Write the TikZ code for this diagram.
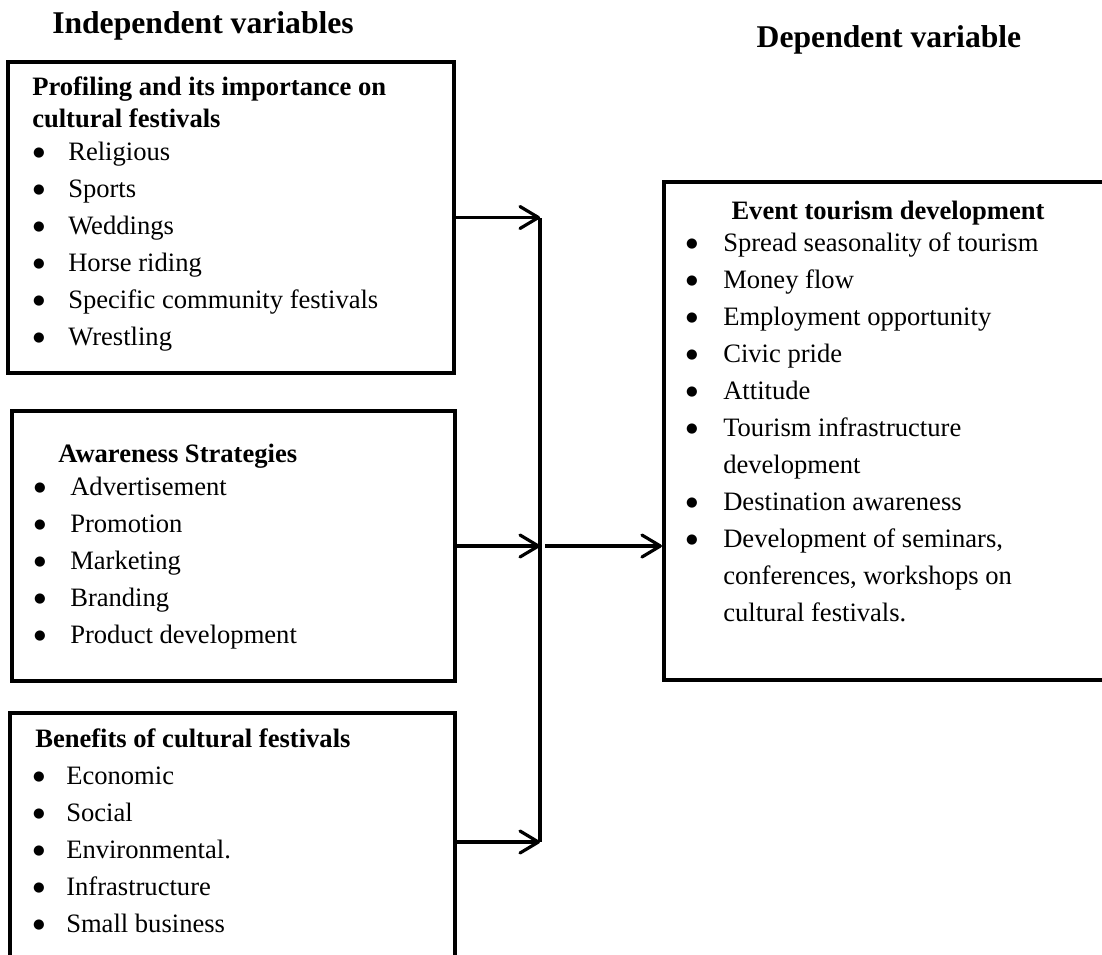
\documentclass[tikz,border=0pt]{standalone}
\usepackage{fontspec}
\setmainfont{Liberation Serif}
\newfontfamily\dotfont{DejaVu Sans}
\usetikzlibrary{arrows.meta}
\tikzset{>={Straight Barb[length=0.46cm,width=0.55cm,line width=0.08cm,round]}}
\tikzstyle{varbox}=[rectangle,draw,line width=0.1cm,inner sep=0pt]
\tikzstyle{head}=[anchor=base west,inner sep=0pt,font=\fontsize{18.9}{22}\selectfont\bfseries]
\tikzstyle{entry}=[anchor=base west,inner sep=0pt,font=\fontsize{18.9}{22}\selectfont]
\tikzstyle{dot}=[anchor=center,inner sep=0pt,font=\dotfont\fontsize{9.5}{10}\selectfont]
\tikzstyle{title}=[anchor=base,inner sep=0pt,font=\fontsize{22.5}{27}\selectfont\bfseries]
\tikzstyle{link}=[line width=0.08cm]

\begin{document}
\begin{tikzpicture}[x=0.025cm,y=-0.025cm]
	\useasboundingbox (0,0) rectangle (1102,954);

	% titles
	\node[title] (indep) at (203,33) {Independent variables};
	\node[title] (dep) at (889,47) {Dependent variable};

	% boxes
	\node[varbox,minimum width=11.15cm,minimum height=7.775cm] (prof) at (231,217.5) {};
	\node[varbox,minimum width=11.075cm,minimum height=6.75cm] (aware) at (233.5,546) {};
	\node[varbox,minimum width=11.125cm,minimum height=6.45cm] (benef) at (232.5,842) {};
	\node[varbox,minimum width=11.65cm,minimum height=12.45cm] (event) at (897,431) {};

	% profiling
	\node[head] (profhead1) at (32,95) {Profiling and its importance on};
	\node[head] (profhead2) at (32,127) {cultural festivals};
	\foreach \txt [count=\i from 0] in {Religious,Sports,Weddings,Horse riding,Specific community festivals,Wrestling} {
		\node[dot] (profdot\i) at (39,153+37*\i) {●};
		\node[entry] (profitem\i) at (68,160+37*\i) {\txt};
	}

	% awareness
	\node[head] (awarehead) at (58,462) {Awareness Strategies};
	\foreach \txt [count=\i from 0] in {Advertisement,Promotion,Marketing,Branding,Product development} {
		\node[dot] (awaredot\i) at (40,488+37*\i) {●};
		\node[entry] (awareitem\i) at (70,495+37*\i) {\txt};
	}

	% benefits
	\node[head] (benefhead) at (35,747) {Benefits of cultural festivals};
	\foreach \txt [count=\i from 0] in {Economic,Social,Environmental.,Infrastructure,Small business} {
		\node[dot] (benefdot\i) at (39,777+37*\i) {●};
		\node[entry] (benefitem\i) at (66,784+37*\i) {\txt};
	}

	% event tourism
	\node[head,anchor=base] (eventhead) at (888,219) {Event tourism development};
	\foreach \y/\txt [count=\i] in {251/Spread seasonality of tourism,288/Money flow,325/Employment opportunity,362/Civic pride,399/Attitude,436/Tourism infrastructure,510/Destination awareness,547/{Development of seminars,}} {
		\node[dot] (eventdot\i) at (692,\y-7) {●};
		\node[entry] (eventitem\i) at (723,\y) {\txt};
	}
	\foreach \y/\txt [count=\i] in {473/development,584/{conferences, workshops on},621/cultural festivals.} {
		\node[entry] (eventmore\i) at (723,\y) {\txt};
	}

	% connectors
	\coordinate (jtop) at (540,218);
	\coordinate (jbot) at (540,842);
	\draw[link] (jtop) -- (jbot);
	\draw[link,->] (prof.east) -- (prof.east -| jtop);
	\draw[link,->] (aware.east) -- (aware.east -| jtop);
	\draw[link,->] (benef.east) -- (benef.east -| jtop);
	\draw[link,->] ([xshift=0.125cm]aware.east -| jtop) -- (aware.east -| event.west);
\end{tikzpicture}
\end{document}
